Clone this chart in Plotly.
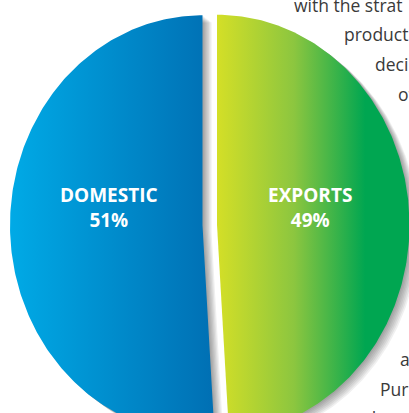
import numpy as np
import plotly.graph_objects as go

# chart data
labels = ['DOMESTIC', 'EXPORTS']
values = [51, 49]

# page text that wraps around the chart (visible fragments only)
page_text = ['with the strat', 'product', 'deci', 'of', 'a', 'Pur', 'and co']
page_text_x = [292, 342, 373, 396, 398, 378, 343]      # px from left
page_text_base = [11, 40.5, 70, 99.5, 365, 394.5, 424]  # baseline, px from top

# slice gradients (left -> right)
gradients = [
    [[0, '#00aae6'], [1, '#006fb3']],
    [[0, '#d4df27'], [0.4, '#8cc63f'], [0.77, '#00a651'], [1, '#00a651']],
]

W, H = 409, 413
RX, RY = 192.5, 210.0      # pie radius in px (picture is stretched vertically)
CX, CY = 209.75, 225.0     # pie centre in px
PULL = 0.0377
LABEL_R = 0.485

fig = go.Figure()

total = float(sum(values))
start = np.pi / 2
slices = []
for lab, val in zip(labels, values):
    span = 2 * np.pi * val / total
    a0, a1 = start, start + span
    mid = (a0 + a1) / 2
    ax, ay = PULL * np.cos(mid), PULL * np.sin(mid)
    t = np.linspace(a0, a1, 240)
    xs = np.concatenate([[ax], ax + np.cos(t), [ax]])
    ys = np.concatenate([[ay], ay + np.sin(t), [ay]])
    slices.append((lab, val, xs, ys, mid, ax, ay))
    start = a1

# soft drop shadow (down / right)
for lab, val, xs, ys, mid, ax, ay in slices:
    for k in range(1, 8):
        fig.add_trace(go.Scatter(
            x=xs + k * 1.3 / RX, y=ys - k * 1.0 / RY,
            mode='lines', fill='toself', line=dict(width=0),
            fillcolor='rgba(0,0,0,0.06)', hoverinfo='skip', showlegend=False
        ))

for (lab, val, xs, ys, mid, ax, ay), grad in zip(slices, gradients):
    fig.add_trace(go.Scatter(
        x=xs, y=ys, mode='lines', fill='toself', line=dict(width=0),
        fillgradient=dict(type='horizontal', colorscale=grad),
        hoverinfo='skip', showlegend=False, name=lab
    ))
    fig.add_annotation(
        x=ax + LABEL_R * np.cos(mid), y=ay + 0.083,
        text=f'<b>{lab}<br>{val}%</b>', showarrow=False,
        font=dict(family='Open Sans', size=19, color='white'),
        xanchor='center', yanchor='middle'
    )

for txt, px, base in zip(page_text, page_text_x, page_text_base):
    fig.add_annotation(
        xref='paper', yref='paper', x=px / W, y=1 - (base - 6) / H,
        text=txt, showarrow=False, xanchor='left', yanchor='middle',
        font=dict(family='Open Sans', size=17.5, color='#3a3a3a')
    )

fig.update_layout(
    width=W, height=H,
    margin=dict(l=0, r=0, t=0, b=0),
    paper_bgcolor='white', plot_bgcolor='white',
    showlegend=False,
    xaxis=dict(visible=False, range=[-CX / RX, (W - CX) / RX], fixedrange=True),
    yaxis=dict(visible=False, range=[-(H - CY) / RY, CY / RY], fixedrange=True),
)

fig.write_html('out.html', config={'displayModeBar': False},
               post_script="document.body.style.margin='0';")
